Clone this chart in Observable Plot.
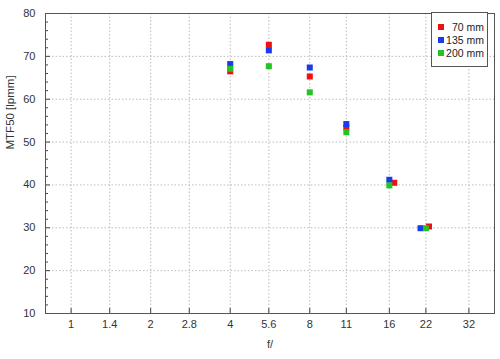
<!DOCTYPE html>
<html>
<head>
<meta charset="utf-8">
<script src="https://cdn.jsdelivr.net/npm/d3@7"></script>
<script src="https://cdn.jsdelivr.net/npm/@observablehq/plot@0.6"></script>
<style>
  body { margin: 0; background: #fff; }
  #wrap { position: relative; width: 500px; height: 359px; font-family: "Liberation Sans", Arial, sans-serif; }
  #legend { position: absolute; left: 431px; top: 12px; width: 57px; height: 55px; border: 1px solid #555; background: #fff; box-sizing: border-box; font-size: 10.5px; color: #222; }
  #legend .row { position: absolute; left: 0; right: 3px; height: 12px; line-height: 12px; }
  #legend .sw { position: absolute; left: 6px; top: 3px; width: 6px; height: 6px; }
  #legend .lb { position: absolute; right: 0; top: 0; text-align: right; white-space: nowrap; }
</style>
</head>
<body>
<div id="wrap"></div>
<script>
const seriesNames = ["70 mm", "135 mm", "200 mm"];
const seriesColors = ["#ee1111", "#1a3be8", "#22c322"];
const fRed = [4, 5.6, 8, 11, 16.7, 22.6];
const vRed = [66.5, 72.7, 65.3, 53.4, 40.5, 30.3];
const fBlue = [4, 5.6, 8, 11, 16, 21];
const vBlue = [68.2, 71.4, 67.4, 54.2, 41.2, 29.9];
const fGreen = [4, 5.6, 8, 11, 16, 22];
const vGreen = [67.1, 67.7, 61.6, 52.3, 39.9, 29.9];
const xTicks = [1, 1.4, 2, 2.8, 4, 5.6, 8, 11, 16, 22, 32];
const yTicks = [10, 20, 30, 40, 50, 60, 70, 80];
const yMinor = d3.range(10, 81, 2).filter(v => v % 10 !== 0);
const xTitle = "f/";
const yTitle = "MTF50 [lpmm]";

const fs = [fRed, fBlue, fGreen];
const vs = [vRed, vBlue, vGreen];
const data = [];
seriesNames.forEach((s, i) => fs[i].forEach((f, j) => data.push({series: s, f, v: vs[i][j]})));

const chart = Plot.plot({
  width: 500,
  height: 359,
  marginLeft: 45,
  marginRight: 6,
  marginTop: 13,
  marginBottom: 46,
  style: {fontFamily: "Liberation Sans, Arial, sans-serif", fontSize: "11px", color: "#333", background: "#fff"},
  x: {type: "log", domain: [0.8, 40], axis: null},
  y: {domain: [10, 80], axis: null},
  color: {domain: seriesNames, range: seriesColors},
  marks: [
    Plot.gridX(xTicks, {stroke: "#bbb", strokeOpacity: 1, strokeDasharray: "1.5,2"}),
    Plot.gridY(yTicks, {stroke: "#bbb", strokeOpacity: 1, strokeDasharray: "1.5,2"}),
    Plot.axisX(xTicks, {tickSize: -5, text: null, label: null, stroke: "#444"}),
    Plot.axisY(yTicks, {tickSize: -5, text: null, label: null, stroke: "#444"}),
    Plot.axisY(yMinor, {tickSize: -3, text: null, label: null, stroke: "#444"}),
    Plot.text(xTicks, {x: d => d, text: d => String(d), frameAnchor: "bottom", dy: 14, fill: "#333"}),
    Plot.text(yTicks, {y: d => d, text: d => String(d), frameAnchor: "left", dx: -10, textAnchor: "end", fill: "#333"}),
    Plot.text([xTitle], {text: d => d, frameAnchor: "bottom", dy: 34, fill: "#333"}),
    Plot.text([yTitle], {text: d => d, frameAnchor: "left", dx: -35, dy: -14, rotate: -90, fill: "#333", fontSize: 11.5}),
    Plot.frame({stroke: "#555"}),
    Plot.dot(data, {x: "f", y: "v", fill: "series", symbol: "square", r: 3.4})
  ]
});

const wrap = document.getElementById("wrap");
wrap.appendChild(chart);
const legend = document.createElement("div");
legend.id = "legend";
seriesNames.forEach((s, i) => {
  const row = document.createElement("div");
  row.className = "row";
  row.style.top = (8 + i * 13) + "px";
  row.innerHTML = `<span class="sw" style="background:${seriesColors[i]}"></span><span class="lb">${s}</span>`;
  legend.appendChild(row);
});
wrap.appendChild(legend);
</script>
</body>
</html>
